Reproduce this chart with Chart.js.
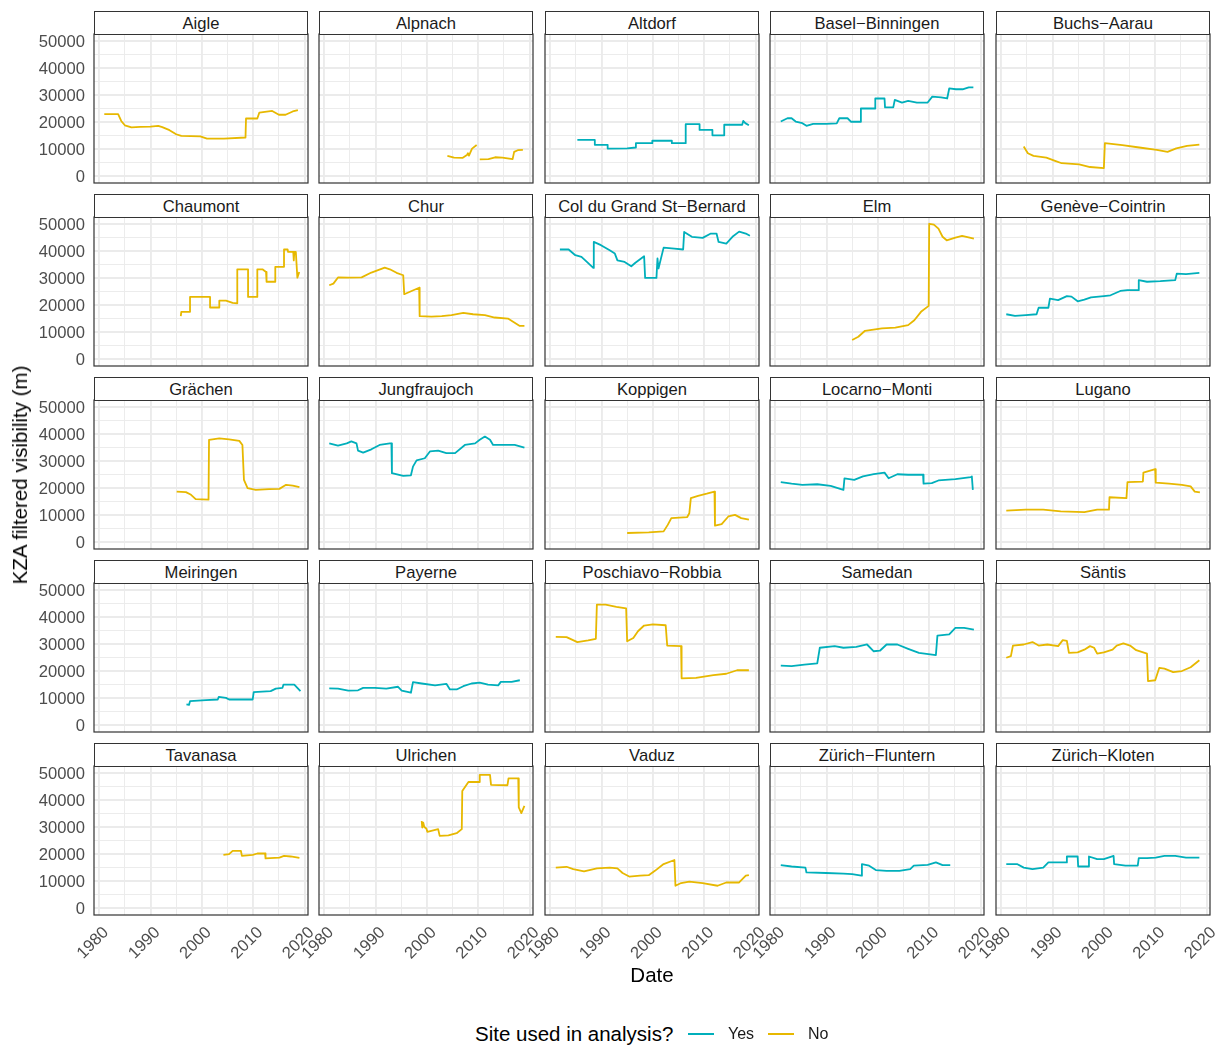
<!DOCTYPE html>
<html>
<head>
<meta charset="utf-8">
<title>KZA filtered visibility by site</title>
<script src="https://cdn.jsdelivr.net/npm/chart.js@4.4.1/dist/chart.umd.min.js"></script>
<style>
  html, body { margin: 0; padding: 0; background: #ffffff; }
  #fig { position: relative; width: 1222px; height: 1046px; overflow: hidden;
         font-family: "Liberation Sans", Arial, Helvetica, sans-serif; background: #ffffff; }
  #fig canvas { position: absolute; }
  .strip { position: absolute; box-sizing: border-box; border: 1.2px solid #333333;
           background: #ffffff; color: #1a1a1a; font-size: 16.6px; text-align: center;
           line-height: 23px; white-space: nowrap; }
  .title { position: absolute; color: #000000; font-size: 20.5px; white-space: nowrap; }
  .legend-key { position: absolute; height: 2px; }
  .legend-text { position: absolute; color: #1a1a1a; font-size: 16px; white-space: nowrap; }
</style>
</head>
<body>
<div id="fig"></div>
<script>
// ---- data ---------------------------------------------------------------
const stations = [
  'Aigle', 'Alpnach', 'Altdorf', 'Basel\u2212Binningen', 'Buchs\u2212Aarau',
  'Chaumont', 'Chur', 'Col du Grand St\u2212Bernard', 'Elm', 'Genève\u2212Cointrin',
  'Grächen', 'Jungfraujoch', 'Koppigen', 'Locarno\u2212Monti', 'Lugano',
  'Meiringen', 'Payerne', 'Poschiavo\u2212Robbia', 'Samedan', 'Säntis',
  'Tavanasa', 'Ulrichen', 'Vaduz', 'Zürich\u2212Fluntern', 'Zürich\u2212Kloten'
];
const usedInAnalysis = [
  'No', 'No', 'Yes', 'Yes', 'No',
  'No', 'No', 'Yes', 'No', 'Yes',
  'No', 'Yes', 'No', 'Yes', 'No',
  'Yes', 'Yes', 'No', 'Yes', 'No',
  'No', 'No', 'No', 'Yes', 'Yes'
];
const legendLevels = ['Yes', 'No'];
const yearTicks = [1980, 1985, 1990, 1995, 2000, 2005, 2010, 2015, 2020];
const visibilityTicks = [0, 5000, 10000, 15000, 20000, 25000, 30000, 35000, 40000, 45000, 50000];

// [decimal year, KZA filtered visibility in m]
const aigle = [[1981.0,22900],[1983.7,22900],[1984.3,20400],[1985.0,18800],[1986.3,18000],[1988.0,18200],[1990.0,18300],[1991.5,18600],[1992.3,18100],[1993.7,17000],[1995.0,15500],[1996.0,14900],[1999.7,14700],[2001.0,13900],[2004.3,13900],[2008.5,14300],[2008.6,21300],[2010.8,21300],[2011.2,23500],[2013.7,24100],[2015.0,22700],[2016.3,22700],[2017.7,23900],[2018.7,24400]];
const alpnach = [[2004.0,7500],[2005.3,6900],[2007.0,6800],[2007.8,7800],[2008.0,8500],[2008.2,7600],[2008.8,10200],[2009.7,11500],[2010.0,null],[2010.3,6200],[2012.0,6300],[2013.3,7000],[2014.7,6900],[2016.7,6300],[2017.0,9000],[2017.7,9600],[2018.7,9700]];
const altdorf = [[1985.3,13400],[1988.7,13400],[1988.7,11600],[1991.2,11600],[1991.2,10200],[1995.0,10300],[1996.7,10600],[1996.7,12200],[1999.9,12200],[1999.9,13100],[2003.7,13100],[2003.7,12200],[2006.4,12200],[2006.4,19200],[2009.1,19200],[2009.1,17100],[2011.6,17100],[2011.6,15100],[2013.9,15100],[2013.9,19000],[2017.4,19000],[2017.6,20400],[2018.0,19600],[2018.7,18800]];
const baselBinningen = [[1981.1,20200],[1982.4,21400],[1983.2,21400],[1984.0,20200],[1985.3,19600],[1986.1,18600],[1987.4,19300],[1989.9,19300],[1992.0,19500],[1992.5,21400],[1994.1,21400],[1994.8,20100],[1996.7,20100],[1996.7,25000],[1999.5,25000],[1999.5,28700],[2001.3,28700],[2001.4,25400],[2003.0,25400],[2003.3,28200],[2004.7,27200],[2005.9,27800],[2007.6,27200],[2009.7,27200],[2010.6,29400],[2012.3,29100],[2013.5,28700],[2013.9,32400],[2015.2,32100],[2016.5,32100],[2017.7,32800],[2018.6,32800]];
const buchsAarau = [[1984.4,11000],[1985.2,8500],[1986.3,7500],[1988.8,6900],[1990.5,5700],[1991.8,4800],[1995.2,4400],[1997.3,3400],[2000.0,3000],[2000.2,12200],[2003.6,11500],[2006.9,10600],[2010.3,9700],[2012.4,9000],[2014.1,10300],[2016.2,11200],[2018.6,11700]];
const chaumont = [[1995.9,15900],[1996.0,17500],[1997.7,17500],[1997.7,23000],[2001.6,23000],[2001.6,19100],[2003.4,19100],[2003.4,21600],[2004.7,21600],[2006.0,20800],[2006.9,20600],[2006.9,33200],[2009.0,33200],[2009.0,23000],[2010.8,23000],[2010.8,33200],[2011.8,33200],[2012.5,32200],[2012.6,28600],[2014.3,28600],[2014.3,34100],[2016.0,34100],[2016.0,40500],[2016.7,40500],[2016.8,39600],[2017.8,39600],[2017.9,36500],[2018.0,39600],[2018.3,39600],[2018.6,30100],[2018.96,32200]];
const chur = [[1981.0,27300],[1981.8,27900],[1982.7,30200],[1984.7,30100],[1987.3,30200],[1989.2,32000],[1991.8,33800],[1992.8,33200],[1994.1,31900],[1995.4,31000],[1995.6,24000],[1996.7,24900],[1998.5,26400],[1998.6,15900],[2000.9,15700],[2002.9,15900],[2004.8,16300],[2007.1,17100],[2009.0,16600],[2011.3,16300],[2013.2,15400],[2015.8,15000],[2017.1,13500],[2018.1,12300],[2019.0,12300]];
const colGrandStBernard = [[1981.9,40500],[1983.6,40500],[1984.9,38400],[1986.1,37800],[1987.0,36200],[1988.4,33700],[1988.5,43300],[1989.9,42100],[1991.6,40200],[1992.6,39000],[1993.1,36500],[1994.5,35900],[1995.8,34300],[1996.6,35600],[1998.3,38000],[1998.5,30000],[2000.7,30000],[2000.9,37200],[2001.1,33500],[2002.1,41200],[2004.2,40800],[2005.9,40500],[2006.1,47000],[2007.6,45200],[2009.7,44800],[2011.3,46400],[2012.4,46400],[2012.8,43300],[2014.3,42700],[2015.5,45200],[2016.8,47100],[2018.1,46400],[2018.9,45600]];
const elm = [[1995.0,7100],[1996.2,8300],[1997.5,10500],[2000.8,11400],[2003.4,11700],[2005.9,12600],[2007.1,14400],[2008.4,17500],[2009.9,19700],[2010.0,50000],[2010.9,49700],[2011.8,48200],[2012.6,45200],[2013.4,43900],[2015.1,44900],[2016.4,45500],[2018.7,44500]];
const geneveCointrin = [[1981.0,16600],[1982.7,16000],[1984.8,16300],[1986.9,16600],[1987.3,19000],[1989.2,19000],[1989.5,22400],[1991.1,21800],[1992.8,23300],[1993.7,23100],[1994.9,21400],[1996.2,22000],[1997.5,22800],[2000.0,23300],[2001.3,23600],[2003.2,25200],[2004.6,25500],[2006.7,25500],[2006.8,29200],[2008.4,28600],[2011.0,28800],[2013.9,29200],[2014.2,31600],[2016.0,31400],[2018.6,31900]];
const grachen = [[1995.1,18700],[1996.9,18500],[1997.9,17500],[1998.8,15900],[2001.3,15700],[2001.4,37800],[2003.4,38300],[2005.3,38000],[2007.3,37400],[2007.9,35900],[2008.2,23000],[2008.9,20000],[2010.5,19300],[2013.1,19600],[2015.1,19700],[2016.4,21200],[2017.7,20900],[2019.0,20300]];
const jungfraujoch = [[1981.0,36500],[1982.7,35700],[1984.4,36500],[1985.3,37200],[1986.3,36500],[1986.6,33800],[1987.6,33100],[1989.2,34300],[1990.8,35900],[1992.8,36500],[1993.1,36500],[1993.2,25500],[1995.4,24500],[1996.9,24700],[1997.3,27900],[1998.0,30200],[1999.6,31000],[2000.6,33500],[2002.2,33800],[2003.8,32900],[2005.5,32900],[2007.4,35900],[2009.4,36500],[2010.3,37800],[2011.3,39000],[2012.3,37800],[2012.9,35900],[2015.2,35900],[2017.1,35900],[2019.0,34900]];
const koppigen = [[1995.0,3400],[1999.2,3600],[2002.1,4000],[2002.9,6400],[2003.6,8900],[2006.7,9300],[2007.1,10700],[2007.4,16300],[2008.8,17100],[2010.5,17900],[2012.0,18700],[2012.1,6100],[2013.4,6700],[2014.7,9500],[2016.0,10100],[2017.2,8900],[2018.7,8300]];
const locarnoMonti = [[1981.1,22200],[1983.2,21600],[1985.3,21200],[1988.2,21400],[1990.8,20800],[1993.3,19300],[1993.5,23600],[1995.4,23000],[1997.1,24300],[1999.2,25100],[2001.3,25700],[2002.1,23600],[2003.8,25100],[2005.9,24900],[2008.8,24900],[2008.9,21600],[2010.5,21800],[2011.8,22800],[2015.1,23300],[2018.1,24000],[2018.3,24300],[2018.5,19300]];
const lugano = [[1981.0,11700],[1984.8,12000],[1988.2,12000],[1991.6,11400],[1996.2,11100],[1998.7,12000],[2001.0,12000],[2001.1,16600],[2004.4,16300],[2004.6,22200],[2007.6,22400],[2007.7,25700],[2010.0,27000],[2010.1,22000],[2012.7,21600],[2015.2,21200],[2016.9,20600],[2017.7,18700],[2018.7,18400]];
const meiringen = [[1997.0,7700],[1997.5,7500],[1997.7,8900],[2000.8,9300],[2003.1,9500],[2003.3,10500],[2004.7,10100],[2005.3,9500],[2009.9,9500],[2010.1,12200],[2013.4,12600],[2014.4,13500],[2015.7,13800],[2015.9,15000],[2018.0,15000],[2019.2,12600]];
const payerne = [[1981.0,13600],[1982.7,13500],[1984.7,12800],[1986.6,12900],[1987.6,13800],[1989.9,13800],[1992.1,13500],[1994.4,14200],[1995.1,12800],[1996.9,12000],[1997.3,15900],[1999.0,15400],[2001.6,14700],[2003.8,15300],[2004.5,13200],[2005.8,13200],[2007.1,14400],[2008.7,15400],[2010.3,15700],[2011.9,15000],[2013.9,14700],[2014.4,16000],[2016.5,16000],[2018.1,16600]];
const poschiavoRobbia = [[1981.1,32600],[1983.2,32500],[1985.3,30700],[1987.4,31300],[1988.9,31900],[1989.1,44500],[1990.8,44500],[1992.9,43700],[1994.8,43100],[1995.0,31000],[1996.2,32200],[1997.1,34700],[1998.3,36800],[2000.0,37200],[2002.5,36900],[2002.8,29400],[2005.5,29200],[2005.6,17300],[2008.4,17500],[2011.8,18500],[2014.3,19000],[2016.4,20300],[2018.7,20300]];
const samedan = [[1981.1,22000],[1983.2,21800],[1985.7,22400],[1988.2,22800],[1988.7,28600],[1991.6,29200],[1993.3,28600],[1995.8,28900],[1997.9,29800],[1999.2,27300],[2000.4,27500],[2001.7,29800],[2003.8,29800],[2005.9,28200],[2008.0,26700],[2011.3,25900],[2011.6,33100],[2013.9,33500],[2015.1,35900],[2016.8,35900],[2018.7,35300]];
const santis = [[1981.0,24900],[1981.9,25500],[1982.3,29400],[1984.4,29800],[1986.1,30700],[1987.3,29400],[1989.0,29800],[1991.1,29200],[1992.0,31400],[1992.8,31100],[1993.2,26700],[1994.9,26900],[1996.2,27900],[1997.3,29200],[1998.1,28600],[1998.7,26400],[2000.0,26900],[2001.7,27900],[2002.5,29400],[2003.8,30200],[2005.1,29400],[2006.3,27700],[2008.4,26400],[2008.6,16300],[2010.0,16600],[2010.8,21200],[2011.8,20900],[2013.5,19600],[2015.2,20000],[2016.9,21400],[2018.6,24000]];
const tavanasa = [[2004.2,19700],[2005.3,20000],[2006.0,21200],[2007.6,21200],[2007.8,19300],[2009.9,19700],[2010.8,20200],[2012.3,20200],[2012.4,18400],[2015.1,18700],[2016.0,19300],[2017.3,19100],[2019.0,18600]];
const ulrichen = [[1999.0,32200],[1999.1,29800],[1999.3,31600],[1999.5,30000],[1999.9,29400],[2000.1,28200],[2002.2,29200],[2002.5,26700],[2004.2,26900],[2005.8,27700],[2006.8,29200],[2006.9,43300],[2008.1,46600],[2010.2,46600],[2010.3,49200],[2012.3,49200],[2012.5,45500],[2015.7,45400],[2015.9,47900],[2017.8,47900],[2017.9,37200],[2018.4,35100],[2019.0,37800]];
const vaduz = [[1981.1,15000],[1983.2,15300],[1984.5,14400],[1986.6,13600],[1989.1,14700],[1991.6,15000],[1993.1,14700],[1994.1,13000],[1995.4,11700],[1997.5,12000],[1999.2,12200],[2000.4,13800],[2002.1,16300],[2004.2,17800],[2004.4,8300],[2005.5,9300],[2007.1,9800],[2009.7,9300],[2012.6,8300],[2014.3,9500],[2016.8,9500],[2018.1,12000],[2018.7,12200]];
const zurichFluntern = [[1981.1,15900],[1983.2,15400],[1985.9,15000],[1986.1,13200],[1989.9,13000],[1993.3,12800],[1995.0,12600],[1996.8,12000],[1996.9,16300],[1998.3,15700],[1999.6,14100],[2001.7,13800],[2004.2,13800],[2006.3,14400],[2007.0,15700],[2009.7,16000],[2011.3,16900],[2012.6,15900],[2014.1,15900]];
const zurichKloten = [[1981.0,16300],[1983.1,16300],[1984.4,15000],[1986.1,14400],[1988.2,15000],[1989.2,16900],[1992.7,16900],[1992.8,19100],[1994.9,19100],[1995.0,15400],[1997.0,15400],[1997.1,19100],[1998.7,18100],[2000.0,18100],[2001.9,19300],[2002.0,16300],[2004.2,15700],[2006.6,15700],[2006.8,18500],[2008.4,18500],[2010.1,18700],[2011.8,19300],[2013.9,19300],[2016.0,18700],[2018.6,18700]];

const seriesByStation = [
  aigle, alpnach, altdorf, baselBinningen, buchsAarau,
  chaumont, chur, colGrandStBernard, elm, geneveCointrin,
  grachen, jungfraujoch, koppigen, locarnoMonti, lugano,
  meiringen, payerne, poschiavoRobbia, samedan, santis,
  tavanasa, ulrichen, vaduz, zurichFluntern, zurichKloten
];

// ---- styling and facet layout ------------------------------------------
const levelColours = { Yes: '#00AFBB', No: '#E7B800' };
const FONT = '"Liberation Sans", Arial, Helvetica, sans-serif';
const TICK_SIZE = 16.6;
const NCOL = 5;
const panelLefts = [94, 319, 545, 770, 996];
const panelTops = [34, 217, 400, 583, 766];
const PANEL_W = 214, PANEL_H = 149, STRIP_H = 24;
const X_RANGE = [1979.0, 2020.67];
const Y_RANGE = [-2500, 52500];

const fig = document.getElementById('fig');

// frame drawn on top of each panel
const panelFrame = {
  id: 'panelFrame',
  afterDraw(chart) {
    const { ctx, chartArea: a } = chart;
    ctx.save();
    ctx.strokeStyle = '#333333';
    ctx.lineWidth = 1.2;
    ctx.strokeRect(a.left, a.top, a.right - a.left, a.bottom - a.top);
    ctx.restore();
  }
};

stations.forEach((name, i) => {
  const r = Math.floor(i / NCOL), c = i % NCOL;
  const lastRow = r === panelTops.length - 1;
  const firstCol = c === 0;
  const padL = firstCol ? 90 : (lastRow ? 52 : 2);
  const padR = lastRow ? 16 : 2;
  const padT = 2;
  const padB = lastRow ? 64 : 2;

  const strip = document.createElement('div');
  strip.className = 'strip';
  strip.textContent = name;
  Object.assign(strip.style, {
    left: panelLefts[c] + 'px', top: (panelTops[r] - STRIP_H + 1) + 'px',
    width: PANEL_W + 'px', height: STRIP_H + 'px'
  });

  const canvas = document.createElement('canvas');
  canvas.width = PANEL_W + padL + padR;
  canvas.height = PANEL_H + padT + padB;
  canvas.style.left = (panelLefts[c] - padL) + 'px';
  canvas.style.top = (panelTops[r] - padT) + 'px';
  fig.appendChild(canvas);
  fig.appendChild(strip);

  const majorX = v => v % 10 === 0;
  const majorY = v => v % 10000 === 0;

  new Chart(canvas, {
    type: 'line',
    data: {
      datasets: [{
        label: name,
        data: seriesByStation[i].map(([x, y]) => ({ x, y })),
        borderColor: levelColours[usedInAnalysis[i]],
        borderWidth: 1.8,
        borderJoinStyle: 'round',
        pointRadius: 0,
        tension: 0,
        spanGaps: false,
        fill: false
      }]
    },
    options: {
      responsive: false,
      animation: false,
      devicePixelRatio: 1,
      events: [],
      layout: { padding: { left: 0, right: padR, top: padT, bottom: 0 } },
      plugins: { legend: { display: false }, tooltip: { enabled: false } },
      scales: {
        x: {
          type: 'linear',
          min: X_RANGE[0], max: X_RANGE[1],
          afterBuildTicks: s => { s.ticks = yearTicks.map(v => ({ value: v })); },
          afterFit: s => { s.height = padB; s.paddingLeft = 0; s.paddingRight = 0; },
          border: { display: false },
          grid: {
            drawTicks: false,
            color: '#EBEBEB',
            lineWidth: ctx => (ctx.tick && majorX(ctx.tick.value)) ? 1.9 : 0.95
          },
          ticks: {
            display: lastRow,
            autoSkip: false,
            minRotation: 45, maxRotation: 45,
            padding: 8,
            labelOffset: 7,
            color: '#4D4D4D',
            font: { family: FONT, size: TICK_SIZE },
            callback: v => majorX(v) ? String(v) : ''
          }
        },
        y: {
          type: 'linear',
          min: Y_RANGE[0], max: Y_RANGE[1],
          afterBuildTicks: s => { s.ticks = visibilityTicks.map(v => ({ value: v })); },
          afterFit: s => { s.width = padL; s.paddingTop = 0; s.paddingBottom = 0; },
          border: { display: false },
          grid: {
            drawTicks: false,
            color: '#EBEBEB',
            lineWidth: ctx => (ctx.tick && majorY(ctx.tick.value)) ? 1.9 : 0.95
          },
          ticks: {
            display: firstCol,
            autoSkip: false,
            padding: 9,
            labelOffset: 1.5,
            color: '#4D4D4D',
            font: { family: FONT, size: TICK_SIZE },
            callback: v => majorY(v) ? String(v) : ''
          }
        }
      }
    },
    plugins: [panelFrame]
  });
});

// ---- axis titles and legend ----------------------------------------------
function addText(cls, text, css) {
  const d = document.createElement('div');
  d.className = cls;
  d.textContent = text;
  Object.assign(d.style, css);
  fig.appendChild(d);
  return d;
}
addText('title', 'KZA filtered visibility (m)', {
  left: '20px', top: '475px', transform: 'translate(-50%, -50%) rotate(-90deg)'
});
addText('title', 'Date', { left: '652px', top: '975px', transform: 'translate(-50%, -50%)' });
addText('title', 'Site used in analysis?', { left: '475px', top: '1034px', transform: 'translateY(-50%)' });

const keyLefts = [688, 768];
const keyLabelLefts = [728, 808];
legendLevels.forEach((lvl, k) => {
  const key = document.createElement('div');
  key.className = 'legend-key';
  Object.assign(key.style, { left: keyLefts[k] + 'px', top: '1033px', width: '26px', background: levelColours[lvl] });
  fig.appendChild(key);
  addText('legend-text', lvl, { left: keyLabelLefts[k] + 'px', top: '1034px', transform: 'translateY(-50%)' });
});
</script>
</body>
</html>
